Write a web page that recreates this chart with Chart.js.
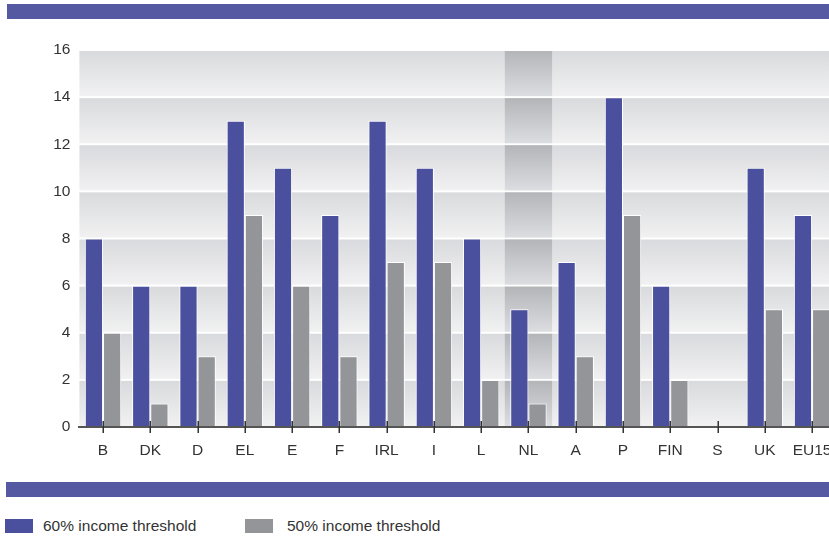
<!DOCTYPE html>
<html>
<head>
<meta charset="utf-8">
<script src="https://cdn.jsdelivr.net/npm/chart.js@4/dist/chart.umd.min.js"></script>
<style>
  html, body { margin:0; padding:0; width:829px; height:539px; overflow:hidden; background:#fff; font-family:"Liberation Sans", Arial, sans-serif; }
  .band { position:absolute; background:#5459a2; }
  #wrap { position:absolute; left:0; top:0; width:850px; height:475px; }
  .leg { position:absolute; top:517px; font-size:15.5px; color:#333; line-height:18px; }
  .leg i { position:absolute; top:2px; width:28px; height:14px; }
</style>
</head>
<body>
<div class="band" style="left:7px; top:4px; width:830px; height:15px"></div>
<div id="wrap"><canvas id="chart"></canvas></div>
<div class="band" style="left:6px; top:482px; width:830px; height:15px"></div>
<div class="leg" style="left:5px"><i style="left:0; background:#4b509e"></i><span style="margin-left:38px">60% income threshold</span></div>
<div class="leg" style="left:245px"><i style="left:0; background:#939598"></i><span style="margin-left:42px">50% income threshold</span></div>
<script>
/* data */
const countries = ['B','DK','D','EL','E','F','IRL','I','L','NL','A','P','FIN','S','UK','EU15'];
const threshold60 = [8, 6, 6, 13, 11, 9, 13, 11, 8, 5, 7, 14, 6, null, 11, 9];
const threshold50 = [4, 1, 3, 9, 6, 3, 7, 7, 2, 1, 3, 9, 2, null, 5, 5];
const yTicks = [0, 2, 4, 6, 8, 10, 12, 14, 16];
const highlightCol = 'NL';

const BLUE = '#4b509e', GREY = '#939598';

/* grey gradient bands behind the bars, NL column darker */
const bandsPlugin = {
  id: 'bands',
  beforeDatasetsDraw(chart){
    const {ctx, chartArea:a, scales:{x, y}} = chart;
    const half = (x.getPixelForValue(1) - x.getPixelForValue(0)) / 2;
    const hx = x.getPixelForValue(countries.indexOf(highlightCol));
    ctx.save();
    for(let j = 0; j < yTicks.length - 1; j++){
      const top = y.getPixelForValue(yTicks[j+1]) + 1;
      const bot = y.getPixelForValue(yTicks[j]) - 1;
      let g = ctx.createLinearGradient(0, top, 0, bot);
      g.addColorStop(0, '#d9dadd'); g.addColorStop(1, '#f1f1f2');
      ctx.fillStyle = g;
      ctx.fillRect(a.left, top, a.right - a.left, bot - top);
      g = ctx.createLinearGradient(0, top, 0, bot);
      g.addColorStop(0, '#b4b5b8'); g.addColorStop(1, '#dcdde0');
      ctx.fillStyle = g;
      ctx.fillRect(hx - half, top, half * 2, bot - top);
    }
    ctx.restore();
  },
  afterDatasetsDraw(chart){
    const {ctx, chartArea:a, scales:{x}} = chart;
    ctx.save();
    ctx.strokeStyle = '#555';
    ctx.lineWidth = 2;
    ctx.beginPath(); ctx.moveTo(78, a.bottom); ctx.lineTo(a.right + 20, a.bottom); ctx.stroke();
    ctx.strokeStyle = '#333';
    ctx.lineWidth = 1.5;
    countries.forEach((c, i) => {
      const px = Math.round(x.getPixelForValue(i)) + 0.25;
      ctx.beginPath(); ctx.moveTo(px, a.bottom - 6); ctx.lineTo(px, a.bottom + 6); ctx.stroke();
    });
    ctx.restore();
  }
};

new Chart(document.getElementById('chart'), {
  type: 'bar',
  data: {
    labels: countries,
    datasets: [
      {label:'60% income threshold', data: threshold60, backgroundColor: BLUE, borderColor:'#fff', borderWidth:1},
      {label:'50% income threshold', data: threshold50, backgroundColor: GREY, borderColor:'#fff', borderWidth:1}
    ]
  },
  options: {
    responsive: true, maintainAspectRatio: false, animation: false,
    categoryPercentage: 0.77, barPercentage: 1,
    layout: {padding:{top:50, right:14.3, left:0, bottom:0}},
    plugins: {legend:{display:false}, tooltip:{enabled:false}},
    scales: {
      x: {
        grid: {display:false, drawTicks:false}, border: {display:false},
        ticks: {color:'#333', font:{family:'"Liberation Sans", Arial', size:15.5}, padding:14, maxRotation:0, autoSkip:false},
        afterFit: s => { s.height = 48; }
      },
      y: {
        min: 0, max: 16,
        grid: {display:false, drawTicks:false}, border: {display:false},
        ticks: {stepSize:2, color:'#333', font:{family:'"Liberation Sans", Arial', size:15.5}, padding:9},
        afterFit: s => { s.width = 79.4; }
      }
    }
  },
  plugins: [bandsPlugin]
});
</script>
</body>
</html>
